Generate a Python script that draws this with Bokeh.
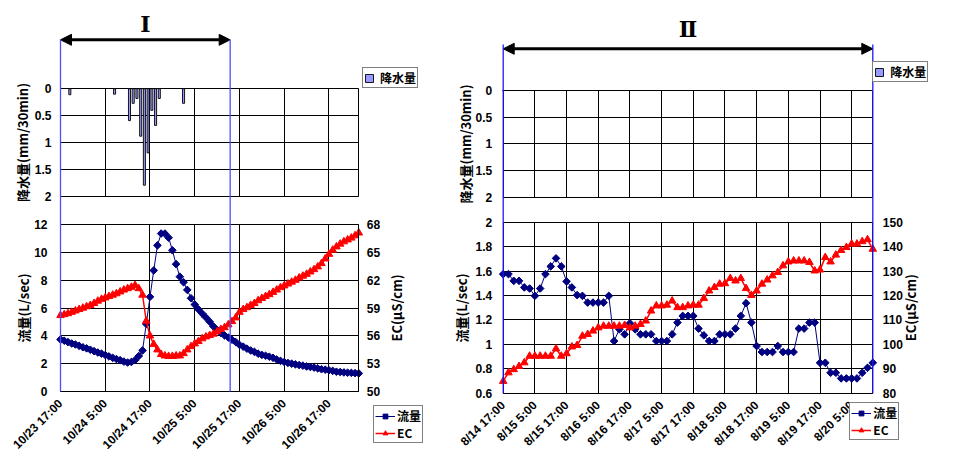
import math
from bokeh.plotting import figure
from bokeh.layouts import row
from bokeh.models import (Range1d, LinearAxis, FixedTicker, Grid, Legend, LegendItem,
                          Arrow, NormalHead, Label, CustomJSTickFormatter)
from bokeh.embed import file_html
from bokeh.resources import INLINE

JP = "Noto Sans CJK JP"
NUM = "Liberation Sans"
HEIGHT = 449

# ---------------- data : period I (October) ----------------
left_tick_hours = [0, 12, 24, 36, 48, 60, 72]
left_tick_labels = ["10/23 17:00", "10/24 5:00", "10/24 17:00", "10/25 5:00",
                    "10/25 17:00", "10/26 5:00", "10/26 17:00"]
left_hours = list(range(81))          # hours after 10/23 17:00
left_flow = [3.74, 3.65, 3.55, 3.45, 3.38, 3.28, 3.18, 3.10, 3.00, 2.90,
             2.80, 2.72, 2.62, 2.52, 2.42, 2.33, 2.25, 2.15, 2.08, 2.12,
             2.25, 2.55, 2.95, 4.85, 6.80, 8.70, 10.50, 11.35, 11.35, 11.05,
             10.15, 9.15, 8.25, 7.85, 7.30, 6.70, 6.25, 5.90, 5.60, 5.32,
             5.02, 4.68, 4.42, 4.20, 4.03, 3.88, 3.72, 3.55, 3.35, 3.22,
             3.08, 2.95, 2.85, 2.72, 2.63, 2.57, 2.50, 2.42, 2.30, 2.20,
             2.12, 2.05, 2.00, 1.95, 1.90, 1.86, 1.80, 1.76, 1.72, 1.66,
             1.60, 1.57, 1.53, 1.48, 1.42, 1.40, 1.37, 1.35, 1.34, 1.32, 1.30]
left_ec = [58.2, 58.3, 58.4, 58.55, 58.7, 58.85, 59.0, 59.15, 59.3, 59.5,
           59.75, 59.95, 60.1, 60.25, 60.4, 60.55, 60.75, 60.95, 61.1, 61.25,
           61.45, 61.1, 60.4, 57.6, 56.0, 55.1, 54.5, 54.0, 53.85, 53.8,
           53.8, 53.85, 53.85, 54.1, 54.5, 54.85, 55.15, 55.4, 55.7, 55.9,
           56.05, 56.2, 56.45, 56.7, 56.9, 57.2, 57.55, 57.95, 58.55, 58.85,
           59.05, 59.3, 59.5, 59.8, 60.05, 60.25, 60.45, 60.7, 60.95, 61.2,
           61.4, 61.6, 61.8, 62.0, 62.25, 62.45, 62.65, 62.9, 63.15, 63.45,
           63.8, 64.3, 64.8, 65.25, 65.6, 65.9, 66.15, 66.35, 66.55, 66.8, 67.1]
left_rain_hours = [2.5, 14.5, 18.5, 19.5, 20.5, 21.5, 22.5, 23.5, 24.5, 25.5, 26.5, 33.0]
left_rain = [0.11, 0.10, 0.59, 0.27, 0.18, 0.88, 1.79, 1.19, 0.40, 0.68, 0.18, 0.27]
left_period = [0, 45.5]
left_end = 80

# ---------------- data : period II (August) ----------------
right_tick_hours = [0, 12, 24, 36, 48, 60, 72, 84, 96, 108, 120, 132]
right_tick_labels = ["8/14 17:00", "8/15 5:00", "8/15 17:00", "8/16 5:00",
                     "8/16 17:00", "8/17 5:00", "8/17 17:00", "8/18 5:00",
                     "8/18 17:00", "8/19 5:00", "8/19 17:00", "8/20 5:00"]
right_hours = list(range(0, 141, 2))  # hours after 8/14 17:00
right_flow = [1.575, 1.575, 1.52, 1.52, 1.466, 1.457, 1.397, 1.457, 1.575, 1.638,
              1.704, 1.638, 1.515, 1.466, 1.403, 1.397, 1.342, 1.342, 1.342, 1.342,
              1.397, 1.027, 1.123, 1.082, 1.173, 1.123, 1.082, 1.082, 1.082, 1.027,
              1.027, 1.027, 1.082, 1.178, 1.233, 1.233, 1.233, 1.129, 1.074, 1.027,
              1.027, 1.082, 1.082, 1.082, 1.129, 1.233, 1.337, 1.178, 0.986, 0.937,
              0.937, 0.937, 0.986, 0.937, 0.937, 0.937, 1.129, 1.129, 1.178, 1.178,
              0.849, 0.849, 0.767, 0.767, 0.721, 0.721, 0.721, 0.721, 0.767, 0.808,
              0.849]
right_ec = [84.9, 88.4, 89.7, 91.0, 92.5, 95.2, 95.2, 95.2, 95.2, 95.2,
            98.2, 95.2, 96.2, 99.0, 99.6, 103.4, 104.1, 105.5, 106.8, 107.5,
            107.5, 107.5, 107.5, 107.8, 106.8, 107.5, 108.2, 109.6, 113.7, 115.8,
            115.8, 116.1, 117.8, 115.1, 115.1, 115.8, 116.1, 116.1, 118.8, 121.9,
            123.3, 124.7, 124.9, 127.0, 126.0, 127.0, 122.9, 120.1, 121.9, 124.7,
            126.4, 128.1, 129.5, 132.2, 133.8, 134.2, 134.2, 134.2, 133.6, 130.1,
            130.5, 135.6, 133.8, 136.6, 138.5, 139.7, 141.1, 141.1, 142.1, 142.9,
            139.0]
# no rainfall during period II
right_rain_hours = [0, 24, 48, 72, 96, 120]
right_rain = [0, 0, 0, 0, 0, 0]
right_period = [0, 140]
right_end = 140

rain_ticks = [0, 0.5, 1, 1.5, 2]
left_flow_ticks = [0, 2, 4, 6, 8, 10, 12]
left_ec_ticks = [50, 53, 56, 59, 62, 65, 68]
right_flow_ticks = [0.6, 0.8, 1, 1.2, 1.4, 1.6, 1.8, 2]
right_ec_ticks = [80, 90, 100, 110, 120, 130, 140, 150]


def value_at(p, v0, p0, v1, p1):
    return v0 + (p - p0) * (v1 - v0) / (p1 - p0)


def add_grid(p, dim, ticks, cross, y_range_name="default"):
    g = Grid(dimension=dim, ticker=FixedTicker(ticks=ticks), y_range_name=y_range_name,
             grid_line_color="black", grid_line_width=1)
    try:
        g.cross_bounds = tuple(cross)
        p.add_layout(g, "center")
    except Exception:
        n = len(ticks)
        if dim == 0:
            p.segment(x0=ticks, y0=[cross[0]] * n, x1=ticks, y1=[cross[1]] * n,
                      y_range_name=y_range_name, line_color="black", line_width=1, level="underlay")
        else:
            p.segment(x0=[cross[0]] * n, y0=ticks, x1=[cross[1]] * n, y1=ticks,
                      y_range_name=y_range_name, line_color="black", line_width=1, level="underlay")


def style_axis(ax, standoff, label_standoff):
    ax.axis_line_color = "black"
    ax.axis_line_width = 1
    ax.major_tick_line_color = None
    ax.minor_tick_line_color = None
    ax.major_label_text_font = NUM
    ax.major_label_text_font_size = "12px"
    ax.major_label_text_font_style = "bold"
    ax.major_label_text_color = "black"
    ax.major_label_standoff = standoff
    ax.axis_label_text_font = JP
    ax.axis_label_text_font_size = "13px"
    ax.axis_label_text_font_style = "bold"
    ax.axis_label_text_color = "black"
    ax.axis_label_standoff = label_standoff


NUM_FMT = "return String(tick);"


def build(c):
    W, H = c["width"], HEIGHT
    x0, x1 = c["x_px"]
    t_end = c["t_end"]
    ft = c["flow_ticks"]
    et = c["ec_ticks"]
    fp_lo, fp_hi = c["flow_px"]
    r0, r1 = c["rain_px"]

    fmap = lambda pix: value_at(pix, ft[0], fp_lo, ft[-1], fp_hi)
    xmap = lambda pix: value_at(pix, 0, x0, t_end, x1)
    p = figure(width=W, height=H, output_backend="svg", toolbar_location=None, title=None,
               x_range=Range1d(xmap(0), xmap(W)),
               y_range=Range1d(fmap(H), fmap(0)),
               x_axis_location=None, y_axis_location=None, min_border=0,
               outline_line_color=None, background_fill_color="white",
               border_fill_color="white")
    p.center = [r for r in p.center if not isinstance(r, Grid)]
    p.extra_y_ranges = {
        "ec": Range1d(value_at(H, et[0], fp_lo, et[-1], fp_hi), value_at(0, et[0], fp_lo, et[-1], fp_hi)),
        "rain": Range1d(start=value_at(H, 0, r0, 2, r1), end=value_at(0, 0, r0, 2, r1)),
    }

    vticks = c["tick_hours"] + [t_end]
    add_grid(p, 0, vticks, (0, 2), "rain")
    add_grid(p, 1, rain_ticks, (0, t_end), "rain")
    add_grid(p, 0, vticks, (ft[0], ft[-1]))
    add_grid(p, 1, ft, (0, t_end))

    rain_r = p.vbar(x=c["rain_hours"], width=0.55, bottom=0, top=c["rain"], y_range_name="rain",
                    fill_color="#9999ff", line_color="black", line_width=0.9)
    fl = p.line(c["hours"], c["flow"], line_color="#000080", line_width=1)
    fm = p.scatter(c["hours"], c["flow"], marker="square", angle=math.pi / 4, size=5.4,
                   fill_color="#000080", line_color="#000080")
    el = p.line(c["hours"], c["ec"], y_range_name="ec", line_color="#ff0000", line_width=1.5)
    em = p.scatter(c["hours"], c["ec"], y_range_name="ec", marker="triangle", size=7.5,
                   fill_color="#ff0000", line_color="#ff0000")

    fax = LinearAxis(fixed_location=0, bounds=(ft[0], ft[-1]), ticker=FixedTicker(ticks=ft),
                     formatter=CustomJSTickFormatter(code=NUM_FMT),
                     axis_label="流量(L/sec)")
    style_axis(fax, c["flow_std"][0], c["flow_std"][1])
    p.add_layout(fax, "left")

    rax = LinearAxis(fixed_location=0, bounds=(0, 2), y_range_name="rain",
                     ticker=FixedTicker(ticks=rain_ticks),
                     formatter=CustomJSTickFormatter(code=NUM_FMT),
                     axis_label="降水量(mm/30min)")
    style_axis(rax, c["rain_std"][0], c["rain_std"][1])
    p.add_layout(rax, "left")

    eax = LinearAxis(fixed_location=t_end, bounds=(et[0], et[-1]), y_range_name="ec",
                     ticker=FixedTicker(ticks=et),
                     formatter=CustomJSTickFormatter(code=NUM_FMT))
    style_axis(eax, c["ec_std"], 0)
    p.add_layout(eax, "right")
    # EC axis title, reading bottom-to-top like the reference
    p.add_layout(Label(x=xmap(c["ec_title_px"]), y=(et[0] + et[-1]) / 2, y_range_name="ec",
                       text="EC(μS/cm)", angle=math.pi / 2, text_align="center",
                       text_baseline="middle", text_font=JP, text_font_size="13px",
                       text_font_style="bold", text_color="black"))

    xax = LinearAxis(fixed_location=ft[0], bounds=(0, t_end),
                     ticker=FixedTicker(ticks=c["tick_hours"]),
                     formatter=CustomJSTickFormatter(
                         args=dict(hour_list=c["tick_hours"], text_list=c["tick_labels"]),
                         code="const k = hour_list.indexOf(tick); return k < 0 ? '' : text_list[k];"))
    style_axis(xax, 4, 0)
    xax.major_label_orientation = math.pi / 4
    p.add_layout(xax, "below")

    per = c["period"]
    ay = fmap(c["arrow_px"])
    p.segment(x0=per, y0=[ft[0], ft[0]], x1=per, y1=[fmap(c["blue_top_px"])] * 2,
              line_color=c["blue"], line_width=1.3, level="overlay")
    p.add_layout(Arrow(x_start=per[0], y_start=ay, x_end=per[1], y_end=ay, line_width=3,
                       line_color="black",
                       start=NormalHead(size=11, fill_color="black", line_color="black"),
                       end=NormalHead(size=11, fill_color="black", line_color="black")))
    p.add_layout(Label(x=(per[0] + per[1]) / 2, y=fmap(c["roman_px"]), text=c["roman"],
                       text_align="center", text_baseline="middle", text_font="DejaVu Serif",
                       text_font_size="22px", text_font_style="bold", text_color="black"))

    common = dict(border_line_color="black", border_line_width=1, background_fill_color="white",
                  background_fill_alpha=1.0, label_text_font=JP, label_text_font_style="bold",
                  label_text_color="black", spacing=0, margin=0, label_text_font_size="12px")
    lx, ly = c["leg_rain"]
    lr = Legend(items=[LegendItem(label="降水量", renderers=[rain_r])], location=(lx, H - ly),
                glyph_width=10, glyph_height=10, label_height=12,
                padding=1, label_standoff=6, **common)
    p.add_layout(lr, "center")
    mx, my = c["leg_main"]
    lm = Legend(items=[LegendItem(label="流量", renderers=[fl, fm]),
                       LegendItem(label="EC", renderers=[el, em])], location=(mx, H - my),
                glyph_width=20, glyph_height=12, label_height=12,
                padding=1, label_standoff=2, **common)
    p.add_layout(lm, "center")
    return p


# pixel layout (x from figure left, y from top)
left_cfg = dict(width=445, x_px=(60, 358.3), t_end=left_end, flow_ticks=left_flow_ticks,
                ec_ticks=left_ec_ticks, flow_px=(391, 224), rain_px=(88.3, 196),
                hours=left_hours, flow=left_flow, ec=left_ec,
                rain_hours=left_rain_hours, rain=left_rain,
                tick_hours=left_tick_hours, tick_labels=left_tick_labels,
                period=left_period, arrow_px=39.3, blue_top_px=39, roman="Ⅰ", roman_px=23,
                blue="#4d4dff", flow_std=(7, -2), rain_std=(3, 0), ec_std=2, ec_title_px=396,
                leg_rain=(362, 88), leg_main=(373, 443))
right_cfg = dict(width=507, x_px=(57.7, 427.3), t_end=right_end, flow_ticks=right_flow_ticks,
                 ec_ticks=right_ec_ticks, flow_px=(392.7, 221.7), rain_px=(90, 196.7),
                 hours=right_hours, flow=right_flow, ec=right_ec,
                 rain_hours=right_rain_hours, rain=right_rain,
                 tick_hours=right_tick_hours, tick_labels=right_tick_labels,
                 period=right_period, arrow_px=48.3, blue_top_px=44, roman="Ⅱ", roman_px=28.3,
                 blue="#1a1aff", flow_std=(5, 2), rain_std=(5, -2), ec_std=4, ec_title_px=465,
                 leg_rain=(427.3, 82), leg_main=(404.3, 440))

layout = row(build(left_cfg), build(right_cfg))
open("out.html", "w").write(file_html(layout, INLINE))
